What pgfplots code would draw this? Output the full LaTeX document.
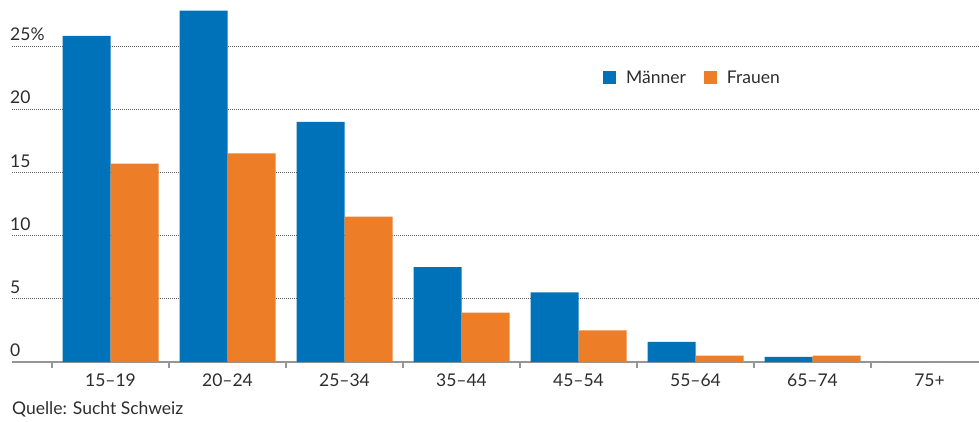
\documentclass[border=0pt]{standalone}
\usepackage{fontspec}
\setmainfont{Lato}
\usepackage{pgfplots}
\pgfplotsset{compat=1.18}
\definecolor{blu}{RGB}{0,114,185}
\definecolor{ora}{RGB}{238,125,40}
\definecolor{txt}{RGB}{45,45,45}
\definecolor{axgray}{RGB}{150,150,150}
\definecolor{gridgray}{RGB}{100,100,100}

\begin{document}
\begin{tikzpicture}
\begin{axis}[
    scale only axis,
    width=976pt, height=361.5pt,
    xmin=-0.842, xmax=7.5,
    ymin=0, ymax=28.6,
    ybar=0pt, bar width=48pt,
    axis x line=bottom, axis y line=left,
    x axis line style={-, draw=axgray, line width=1.3pt},
    y axis line style={draw=none},
    xtick={0,...,7},
    xticklabels={15–19,20–24,25–34,35–44,45–54,55–64,65–74,75+},
    minor xtick={-0.5,0.5,...,6.5},
    major x tick style={draw=none},
    minor x tick style={draw=axgray, line width=1.2pt},
    minor tick length=6pt,
    xtick align=outside,
    ytick={0,5,...,25},
    yticklabels={0,5,10,15,20,25\%},
    ytick style={draw=none},
    major tick length=0pt,
    ymajorgrids,
    major grid style={draw=gridgray, line width=0.9pt, dash pattern=on 0.9pt off 1.1pt},
    /pgf/number format/assume math mode=true,
    tick label style={font=\fontsize{17.5}{21}\selectfont, text=txt},
    xticklabel style={anchor=north, inner sep=0pt, yshift=-12pt},
    yticklabel style={anchor=south west, inner sep=0pt, xshift=-2pt, yshift=5pt},
    legend columns=2,
    legend style={at={(axis cs:4.209,22.47)}, anchor=west, draw=none, fill=none,
        inner sep=0pt, font=\fontsize{17.5}{21}\selectfont, text=txt,
        nodes={inner sep=0pt},
        /tikz/every odd column/.append style={column sep=10pt},
        /tikz/every even column/.append style={column sep=18pt}},
]
\addplot[fill=blu, draw=none,
    legend image code/.code={\fill[blu] (0pt,-6.5pt) rectangle (13pt,6.5pt);}]
    coordinates {(0,25.8) (1,27.8) (2,19.0) (3,7.5) (4,5.5) (5,1.6) (6,0.4) (7,0)};
\addplot[fill=ora, draw=none,
    legend image code/.code={\fill[ora] (0pt,-6.5pt) rectangle (13pt,6.5pt);}]
    coordinates {(0,15.7) (1,16.5) (2,11.5) (3,3.9) (4,2.5) (5,0.5) (6,0.5) (7,0)};
\legend{Männer, Frauen}
\end{axis}
\node[anchor=west, inner sep=0pt, text=txt, font=\fontsize{17.5}{21}\selectfont] at (0pt,-47pt) {Quelle: Sucht Schweiz};
\pgfresetboundingbox
\path[use as bounding box] (-12pt,-59pt) rectangle (967pt,362pt);
\end{tikzpicture}
\end{document}
